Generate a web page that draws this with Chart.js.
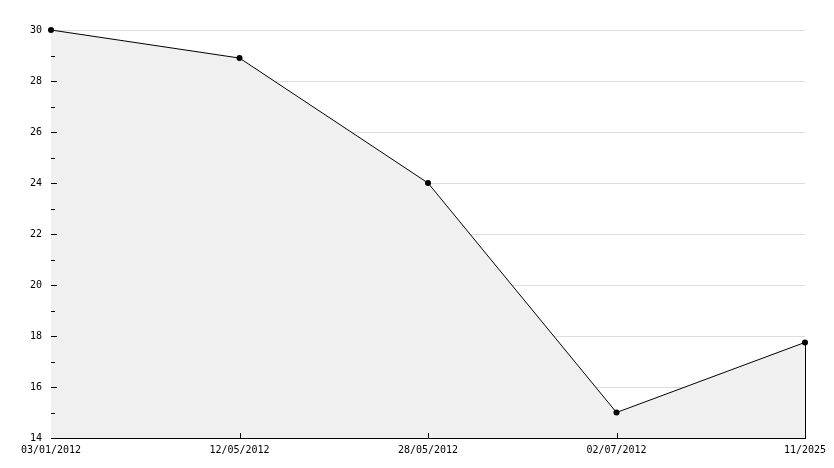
<!DOCTYPE html>
<html>
<head>
<meta charset="utf-8">
<script src="https://cdn.jsdelivr.net/npm/chart.js@4"></script>
<style>
  body { margin: 0; background: #fff; }
  #wrap { width: 834px; height: 468px; }
</style>
</head>
<body>
<div id="wrap"><canvas id="myChart" width="834" height="468"></canvas></div>
<script>
const labels = ['03/01/2012', '12/05/2012', '28/05/2012', '02/07/2012', '11/2025'];
const values = [30, 28.9, 24, 15, 17.75];
const yMin = 14;
const yMax = 30;

// little tick marks drawn inside the plot, plus the right edge of the fill
const tickMarks = {
  id: 'tickMarks',
  afterDatasetsDraw(chart) {
    const ctx = chart.ctx;
    const x = chart.scales.x;
    const y = chart.scales.y;
    const area = chart.chartArea;
    const ax = Math.round(area.left);
    ctx.save();
    ctx.strokeStyle = '#000';
    ctx.lineWidth = 1;
    ctx.beginPath();
    for (let v = yMin + 1; v < yMax; v++) {
      const py = Math.round(y.getPixelForValue(v)) + 0.5;
      const len = v % 2 === 0 ? 6 : 4;
      ctx.moveTo(ax, py);
      ctx.lineTo(ax + len, py);
    }
    for (let i = 1; i < labels.length - 1; i++) {
      const px = Math.round(x.getPixelForValue(i)) + 0.5;
      ctx.moveTo(px, area.bottom);
      ctx.lineTo(px, area.bottom - 5);
    }
    const last = labels.length - 1;
    const lx = Math.round(x.getPixelForValue(last)) + 0.5;
    ctx.moveTo(lx, y.getPixelForValue(values[last]));
    ctx.lineTo(lx, area.bottom);
    ctx.stroke();
    ctx.restore();
  }
};

const font = { family: '"DejaVu Sans Mono", monospace', size: 10 };

new Chart(document.getElementById('myChart'), {
  type: 'line',
  data: {
    labels: labels,
    datasets: [{
      data: values,
      borderColor: '#000',
      borderWidth: 1,
      backgroundColor: '#f0f0f0',
      fill: 'start',
      tension: 0,
      clip: false,
      pointRadius: 3,
      pointBackgroundColor: '#000',
      pointBorderColor: '#000',
      pointBorderWidth: 0
    }]
  },
  options: {
    responsive: false,
    animation: false,
    devicePixelRatio: 1,
    layout: { padding: { top: 30, right: 29, left: 0, bottom: 0 } },
    plugins: { legend: { display: false }, tooltip: { enabled: false } },
    scales: {
      x: {
        offset: false,
        grid: { display: false, drawTicks: false },
        border: { display: true, color: '#000', width: 1 },
        ticks: { color: '#000', font: font, padding: 6, maxRotation: 0, autoSkip: false },
        afterFit: function (scale) { scale.height = 30; }
      },
      y: {
        min: yMin,
        max: yMax,
        grid: { color: '#dcdcdc', drawTicks: false, lineWidth: 1 },
        border: { display: true, color: '#000', width: 1 },
        ticks: { stepSize: 2, color: '#000', font: font, padding: 9 },
        afterFit: function (scale) { scale.width = 51; }
      }
    }
  },
  plugins: [tickMarks]
});
</script>
</body>
</html>
